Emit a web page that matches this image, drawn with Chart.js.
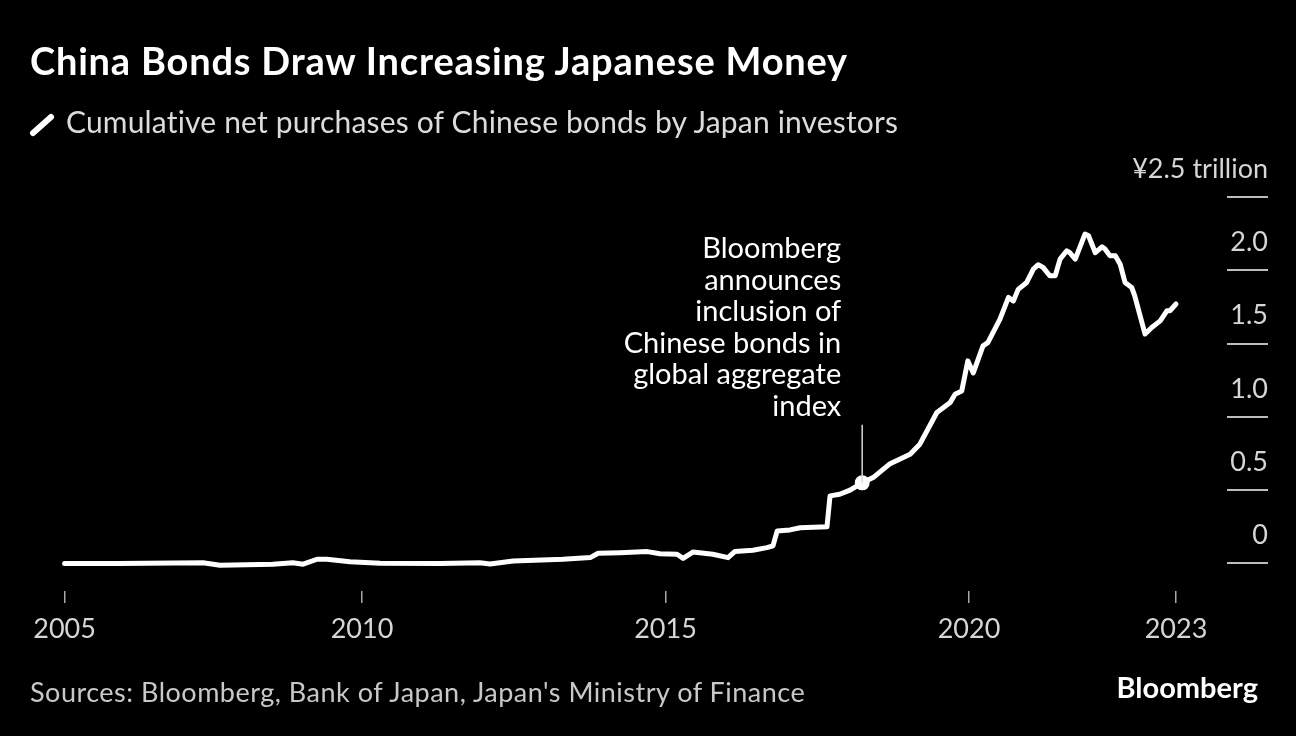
<!DOCTYPE html>
<html>
<head>
<meta charset="utf-8">
<script src="https://cdn.jsdelivr.net/npm/chart.js@4.4.1/dist/chart.umd.min.js"></script>
<style>
  html, body { margin:0; padding:0; background:#000; width:1296px; height:736px; overflow:hidden; }
  #wrap { position:relative; width:1296px; height:736px; }
  canvas { position:absolute; left:0; top:0; }
  .t { position:absolute; white-space:nowrap; font-family:Lato, sans-serif; font-variant-ligatures:none; }
  #title { left:30px; top:38px; font-size:38px; line-height:44px; font-weight:700; color:#fff; letter-spacing:0.8px; }
  #sub { left:66px; top:103px; font-size:30px; line-height:36px; color:#dcdcdc; letter-spacing:0.17px; }
  #icon { position:absolute; left:28px; top:110px; }
  #src { left:30px; top:676px; font-size:27px; line-height:32px; color:#c8c8c8; letter-spacing:0.5px; }
  #logo { right:38px; top:670px; font-size:29px; line-height:34px; font-weight:700; color:#fff; }
</style>
</head>
<body>
<div id="wrap">
  <canvas id="c" width="1296" height="736"></canvas>
  <div class="t" id="title">China Bonds Draw Increasing Japanese Money</div>
  <svg id="icon" width="28" height="30" viewBox="0 0 28 30"><line x1="5" y1="23" x2="23" y2="7" stroke="#fff" stroke-width="6" stroke-linecap="round"/></svg>
  <div class="t" id="sub">Cumulative net purchases of Chinese bonds by Japan investors</div>
  <div class="t" id="src">Sources: Bloomberg, Bank of Japan, Japan's Ministry of Finance</div>
  <div class="t" id="logo">Bloomberg</div>
</div>
<script>
// ---- data ----
const years = [2005.10, 2005.98, 2007.38, 2007.66, 2008.53, 2008.86, 2009.03, 2009.26, 2009.42, 2009.80,
  2010.30, 2011.29, 2011.94, 2012.11, 2012.49, 2013.31, 2013.76, 2013.89, 2014.25, 2014.70,
  2014.91, 2015.19, 2015.29, 2015.45, 2015.78, 2016.03, 2016.14, 2016.44, 2016.67, 2016.77,
  2016.84, 2017.05, 2017.22, 2017.66, 2017.71, 2017.87, 2018.04, 2018.24, 2018.42, 2018.70,
  2019.03, 2019.19, 2019.47, 2019.69, 2019.77, 2019.88, 2019.98, 2020.07, 2020.23, 2020.31,
  2020.51, 2020.65, 2020.73, 2020.81, 2020.95, 2021.06, 2021.14, 2021.22, 2021.33, 2021.42,
  2021.50, 2021.61, 2021.66, 2021.75, 2021.91, 2021.97, 2022.08, 2022.19, 2022.24, 2022.32,
  2022.41, 2022.49, 2022.57, 2022.68, 2022.73, 2022.90, 2023.01, 2023.15, 2023.26, 2023.31,
  2023.41];
const netPurchases = [0.00, 0.00, 0.005, -0.012, -0.005, 0.005, -0.005, 0.029, 0.029, 0.012,
  0.001, 0.0, 0.005, -0.003, 0.017, 0.029, 0.04, 0.07, 0.074, 0.081,
  0.067, 0.063, 0.035, 0.078, 0.063, 0.04, 0.081, 0.09, 0.108, 0.12,
  0.222, 0.229, 0.244, 0.251, 0.461, 0.472, 0.50, 0.55, 0.586, 0.681,
  0.745, 0.814, 1.03, 1.098, 1.155, 1.177, 1.382, 1.30, 1.485, 1.507,
  1.667, 1.815, 1.79, 1.87, 1.917, 2.008, 2.038, 2.02, 1.963, 1.963,
  2.076, 2.133, 2.12, 2.076, 2.247, 2.235, 2.12, 2.16, 2.145, 2.10,
  2.10, 2.042, 1.917, 1.883, 1.826, 1.565, 1.61, 1.655, 1.724, 1.724,
  1.77];
const xTickValues = [2005.10, 2010, 2015, 2020, 2023.41];
const xTickLabels = ['2005', '2010', '2015', '2020', '2023'];
const yTickValues = [0, 0.5, 1.0, 1.5, 2.0, 2.5];
const yTickLabels = ['0', '0.5', '1.0', '1.5', '2.0', '¥2.5 trillion'];
const annotationPoint = [2018.24, 0.55];
const annotationLines = ['Bloomberg', 'announces', 'inclusion of', 'Chinese bonds in', 'global aggregate', 'index'];

const FONT = 'Lato';
Chart.defaults.font.family = FONT;

const annotationPlugin = {
  id: 'annot',
  afterDatasetsDraw(chart) {
    const {ctx, scales} = chart;
    const px = scales.x.getPixelForValue(annotationPoint[0]);
    const py = scales.y.getPixelForValue(annotationPoint[1]);
    ctx.save();
    ctx.strokeStyle = '#d8d8d8';
    ctx.lineWidth = 1.5;
    ctx.beginPath();
    ctx.moveTo(px, py - 58);
    ctx.lineTo(px, py);
    ctx.stroke();
    ctx.fillStyle = '#ffffff';
    ctx.font = '29px ' + FONT;
    ctx.textAlign = 'right';
    ctx.textBaseline = 'alphabetic';
    const n = annotationLines.length;
    annotationLines.forEach((t, i) => {
      ctx.fillText(t, px - 21, py - 67 - (n - 1 - i) * 31.5);
    });
    ctx.restore();
  }
};

new Chart(document.getElementById('c'), {
  type: 'line',
  data: {
    datasets: [
      {
        data: years.map((y, i) => ({x: y, y: netPurchases[i]})),
        borderColor: '#ffffff',
        borderWidth: 5,
        borderJoinStyle: 'round',
        borderCapStyle: 'round',
        tension: 0,
        pointRadius: 0,
        fill: false,
        order: 2
      },
      {
        data: [{x: annotationPoint[0], y: annotationPoint[1]}],
        pointRadius: 7.5,
        pointBackgroundColor: '#ffffff',
        pointBorderWidth: 0,
        showLine: false,
        order: 1
      }
    ]
  },
  options: {
    responsive: false,
    animation: false,
    events: [],
    layout: { padding: { left: 30, right: 28, top: 197, bottom: 85 } },
    plugins: { legend: { display: false }, tooltip: { enabled: false } },
    scales: {
      x: {
        type: 'linear',
        min: 2004.53,
        max: 2024.25,
        afterBuildTicks: s => { s.ticks = xTickValues.map(v => ({value: v})); },
        afterFit: s => { s.height = 60; },
        border: { display: false },
        grid: { drawOnChartArea: false, drawTicks: true, tickLength: 12, color: '#a8a8a8', lineWidth: 1.5 },
        ticks: {
          color: '#d6d6d6', padding: 10, maxRotation: 0, autoSkip: false,
          font: { size: 27, family: FONT },
          callback: (v, i) => xTickLabels[i]
        }
      },
      y: {
        position: 'right',
        min: -0.1877,
        max: 2.5,
        afterBuildTicks: s => { s.ticks = yTickValues.map(v => ({value: v})); },
        afterFit: s => { s.width = 41; s._computeLabelArea = () => null; },
        border: { display: false },
        grid: { drawOnChartArea: false, drawTicks: true, tickLength: 41, color: '#bdbdbd', lineWidth: 2 },
        ticks: {
          color: '#d6d6d6', crossAlign: 'far', labelOffset: -28, padding: 0,
          font: { size: 27, family: FONT },
          callback: (v, i) => yTickLabels[i]
        }
      }
    }
  },
  plugins: [annotationPlugin]
});
</script>
</body>
</html>
